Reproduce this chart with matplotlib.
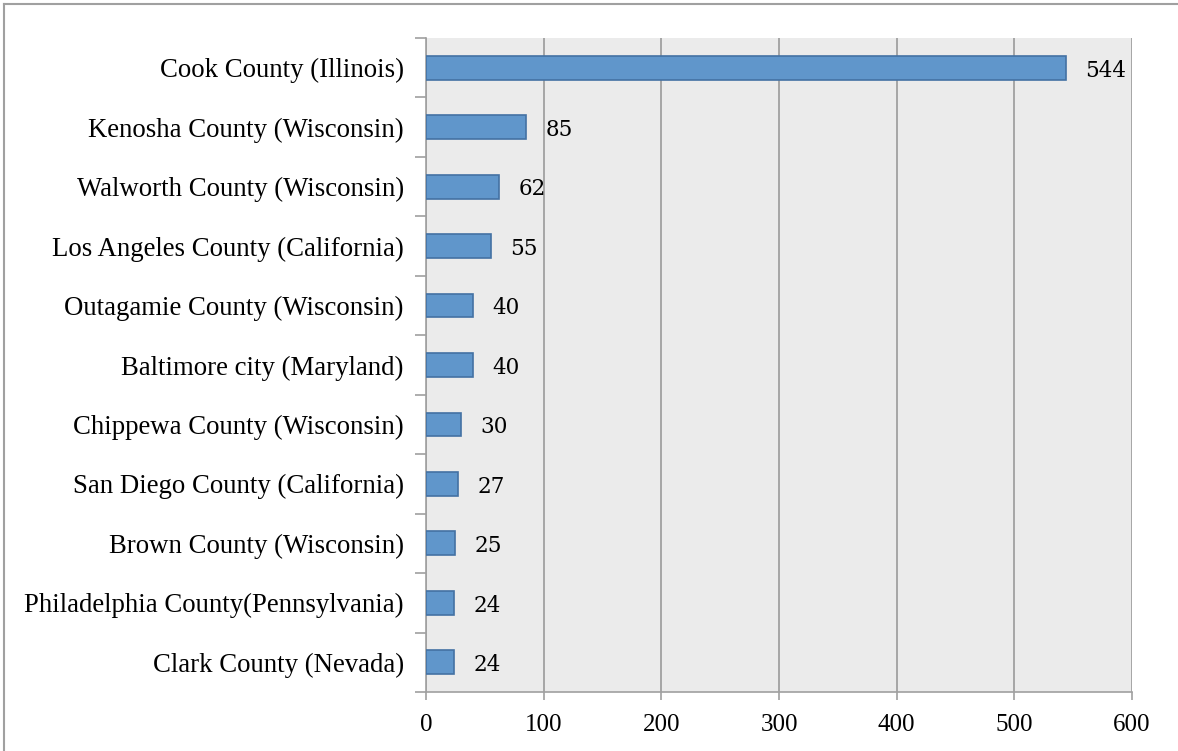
import matplotlib
matplotlib.use("Agg")
import matplotlib.pyplot as plt
from matplotlib.lines import Line2D
import numpy as np

categories = [
    "Cook County (Illinois)",
    "Kenosha County (Wisconsin)",
    "Walworth County (Wisconsin)",
    "Los Angeles County (California)",
    "Outagamie County (Wisconsin)",
    "Baltimore city (Maryland)",
    "Chippewa County (Wisconsin)",
    "San Diego County (California)",
    "Brown County (Wisconsin)",
    "Philadelphia County(Pennsylvania)",
    "Clark County (Nevada)",
]
values = [544, 85, 62, 55, 40, 40, 30, 27, 25, 24, 24]
xticks = [0, 100, 200, 300, 400, 500, 600]

W, H = 1178, 751
fig = plt.figure(figsize=(W / 100, H / 100), dpi=100)
ax = fig.add_axes([426 / W, 1 - 692 / H, (1132 - 426) / W, (692 - 38) / H])
ax.set_facecolor("#EBEBEB")

n = len(categories)
ypos = np.arange(n)[::-1]
ax.barh(ypos, values, height=0.4, color="#6096CB", edgecolor="#4471A3", linewidth=1.2, zorder=3)

for y, v in zip(ypos, values):
    ax.annotate(str(v), xy=(v, y), xytext=(14, -2), textcoords="offset points",
                va="center", ha="left", fontsize=15.5, family="DejaVu Serif", zorder=4)

ax.set_xlim(0, 600)
ax.set_ylim(-0.5, n - 0.5)
ax.set_xticks(xticks)
ax.set_xticklabels([str(t) for t in xticks], family="Liberation Serif", fontsize=18)
ax.set_yticks(ypos)
ax.set_yticklabels(categories, family="Liberation Serif", fontsize=19.3)
ax.set_yticks(np.arange(-0.5, n, 1.0), minor=True)
ax.tick_params(axis="y", which="major", length=0, pad=16)
ax.tick_params(axis="y", which="minor", length=8, color="#A0A0A0", width=1.2)
ax.tick_params(axis="x", which="major", length=6, color="#A0A0A0", width=1.2, pad=10)

ax.grid(axis="x", color="#A0A0A0", linewidth=1.3, zorder=1)
ax.set_axisbelow(True)
for s in ["top", "right"]:
    ax.spines[s].set_visible(False)
for s in ["left", "bottom"]:
    ax.spines[s].set_color("#A0A0A0")
    ax.spines[s].set_linewidth(1.2)

# figure frame (left and top edges)
fig.add_artist(Line2D([4 / W, 4 / W], [0, 1 - 4 / H], transform=fig.transFigure, color="#A0A0A0", linewidth=1.5))
fig.add_artist(Line2D([4 / W, 1], [1 - 4 / H, 1 - 4 / H], transform=fig.transFigure, color="#A0A0A0", linewidth=1.5))

fig.savefig("out.png", dpi=100)
